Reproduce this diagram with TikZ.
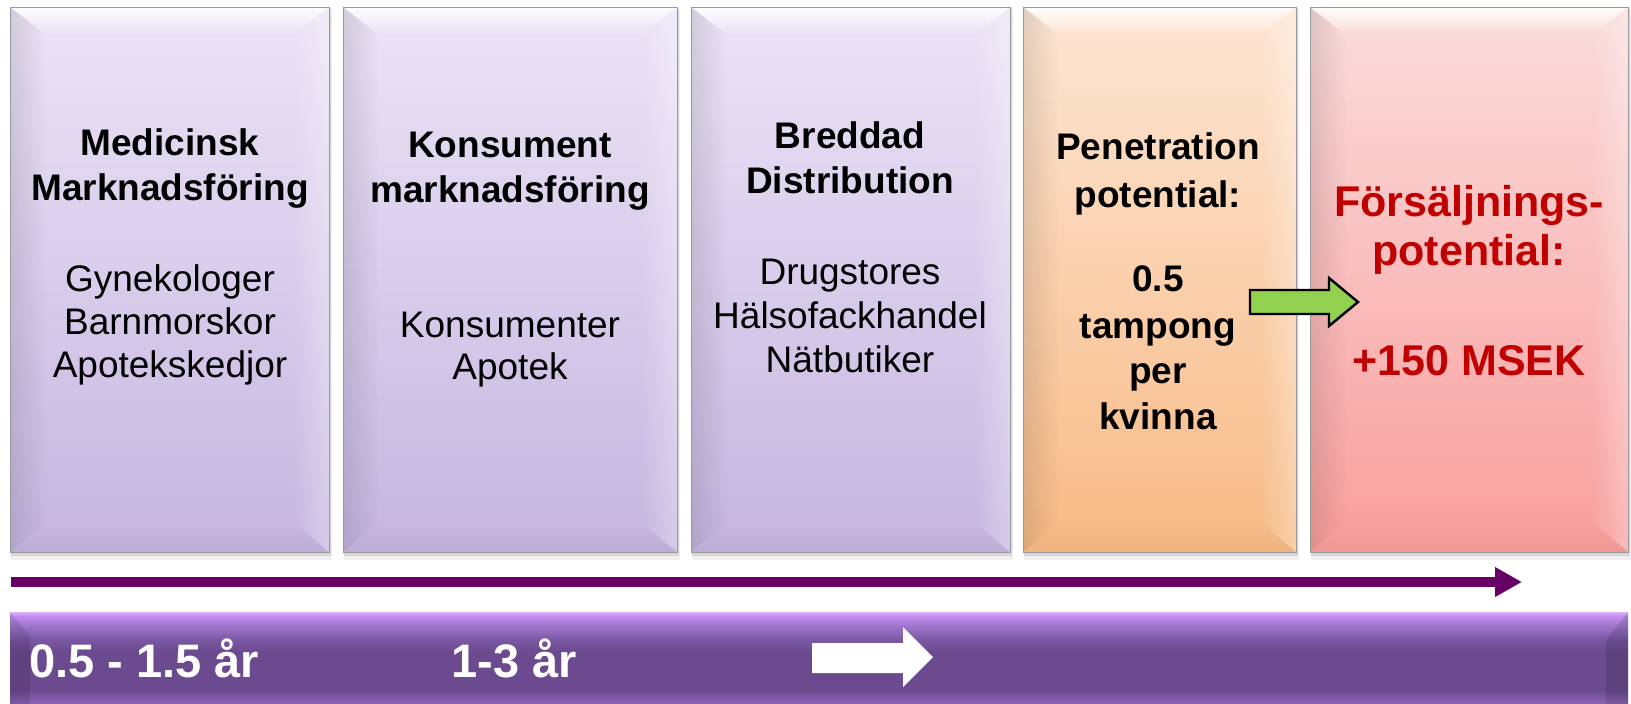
\documentclass[tikz,border=0pt]{standalone}
\usepackage{fontspec}
\setmainfont{Liberation Sans}
\usetikzlibrary{arrows.meta,fadings}
\definecolor{lavtop}{HTML}{EBE4F6}
\definecolor{lavbot}{HTML}{C5B5E0}
\definecolor{peatop}{HTML}{FDE6D4}
\definecolor{peabot}{HTML}{F7BA85}
\definecolor{pintop}{HTML}{FADCDC}
\definecolor{pinbot}{HTML}{F89E9C}
\definecolor{tlcol}{HTML}{660066}
\definecolor{arrgreen}{HTML}{92D050}
\definecolor{redtxt}{HTML}{C00000}
\definecolor{barlow}{HTML}{8A62B5}
\definecolor{barmain}{HTML}{6B4A8F}
\definecolor{barmid}{HTML}{7957A2}
\definecolor{barmidb}{HTML}{9B73C8}
\definecolor{barhi}{HTML}{C38DF0}
\definecolor{bartop}{HTML}{D8B4FA}
\pgfdeclareverticalshading{barshade}{100bp}{color(0bp)=(barlow); color(25bp)=(barlow); color(30bp)=(barlow); color(36bp)=(barmain); color(55bp)=(barmain); color(61bp)=(barmid); color(67.5bp)=(barmidb); color(73bp)=(barhi); color(75bp)=(bartop); color(100bp)=(bartop)}
\newcommand\bevbox[6]{%
  \fill[black,opacity=0.06] (#1+1,-#2-2) rectangle (#3+3,-#4-8);
  \fill[black,opacity=0.10] (#1+1,-#2-1) rectangle (#3+2,-#4-4);
  \shade[top color=#5,bottom color=#6] (#1,-#2) rectangle (#3,-#4);
  \fill[white,path fading=south,fill opacity=0.95] (#1,-#2) -- (#3,-#2) -- (#3-36,-#2-28) -- (#1+36,-#2-28) -- cycle;
  \fill[black,path fading=east,fill opacity=0.10] (#1,-#2) -- (#1+36,-#2-28) -- (#1+36,-#4+30) -- (#1,-#4) -- cycle;
  \fill[white,path fading=west,fill opacity=0.30] (#3,-#2) -- (#3-36,-#2-28) -- (#3-36,-#4+30) -- (#3,-#4) -- cycle;
  \fill[black,path fading=north,fill opacity=0.04] (#1,-#4) -- (#1+36,-#4+30) -- (#3-36,-#4+30) -- (#3,-#4) -- cycle;
  \draw[black!40,line width=0.4pt] (#1,-#2) rectangle (#3,-#4);
}
\tikzset{
  ttl/.style={anchor=base,inner sep=0pt,font=\bfseries\fontsize{18.5}{22}\selectfont},
  sub/.style={anchor=base,inner sep=0pt,font=\fontsize{18.5}{22}\selectfont},
  big/.style={anchor=base,inner sep=0pt,text=redtxt,font=\bfseries\fontsize{21.5}{26}\selectfont},
  bartxt/.style={anchor=base west,inner sep=0pt,text=white,font=\bfseries\fontsize{23.5}{28}\selectfont},
}
\begin{document}
\begin{tikzpicture}[x=0.5pt,y=0.5pt]
\useasboundingbox (0,0) rectangle (1631,-703);
\fill[white] (0,0) rectangle (1631,-703);
% boxes
\bevbox{10}{7}{329}{552}{lavtop}{lavbot}
\bevbox{343}{7}{677}{552}{lavtop}{lavbot}
\bevbox{691}{7}{1010}{552}{lavtop}{lavbot}
\bevbox{1023}{7}{1296}{552}{peatop}{peabot}
\bevbox{1310}{7}{1628}{552}{pintop}{pinbot}
% box 1
\node[ttl] (m1) at (170,-155) {Medicinsk};
\node[ttl] (m2) at (170,-200) {Marknadsföring};
\node[sub] (g1) at (170,-291) {Gynekologer};
\node[sub] (g2) at (170,-334) {Barnmorskor};
\node[sub] (g3) at (170,-377) {Apotekskedjor};
% box 2
\node[ttl] (k1) at (510,-157) {Konsument};
\node[ttl] (k2) at (510,-202) {marknadsföring};
\node[sub] (k3) at (510,-337) {Konsumenter};
\node[sub] (k4) at (510,-379) {Apotek};
% box 3
\node[ttl] (b1) at (850,-148) {Breddad};
\node[ttl] (b2) at (850,-193) {Distribution};
\node[sub] (b3) at (850,-284) {Drugstores};
\node[sub] (b4) at (850,-328) {Hälsofackhandel};
\node[sub] (b5) at (850,-372) {Nätbutiker};
% box 4
\node[ttl] (p1) at (1158,-159) {Penetration};
\node[ttl] (p2) at (1158,-207) {potential:};
\node[ttl] (p3) at (1158,-291) {0.5};
\node[ttl] (p4) at (1158,-338) {tampong};
\node[ttl] (p5) at (1158,-383) {per};
\node[ttl] (p6) at (1158,-429) {kvinna};
% box 5
\node[big] (f1) at (1469,-216) {Försäljnings-};
\node[big] (f2) at (1469,-265) {potential:};
\node[big] (f3) at (1469,-375) {+150 MSEK};
% green arrow
\filldraw[fill=arrgreen,draw=black,line width=1.2pt,line join=miter]
  (1250,-290) -- (1329,-290) -- (1329,-278) -- (1358,-302) -- (1329,-326) -- (1329,-314) -- (1250,-314) -- cycle;
% timeline arrow
\coordinate (tlS) at (11,-582);
\coordinate (tlE) at (1522,-582);
\draw[tlcol,line width=5pt,-{Triangle[length=13.5pt,width=14pt]}] (tlS) -- (tlE);
% bottom bar
\shade[shading=barshade] (10,-612) rectangle (1628,-712);
\fill[black,opacity=0.10] (10,-612) -- (30,-636) -- (30,-712) -- (10,-712) -- cycle;
\fill[black,opacity=0.12] (1628,-612) -- (1606,-640) -- (1606,-712) -- (1628,-712) -- cycle;
\node[bartxt] (y1) at (29,-677) {0.5 - 1.5 år};
\node[bartxt] (y2) at (451,-677) {1-3 år};
\fill[white] (812,-643) -- (903,-643) -- (903,-627) -- (933,-657) -- (903,-687) -- (903,-673) -- (812,-673) -- cycle;
\end{tikzpicture}
\end{document}
